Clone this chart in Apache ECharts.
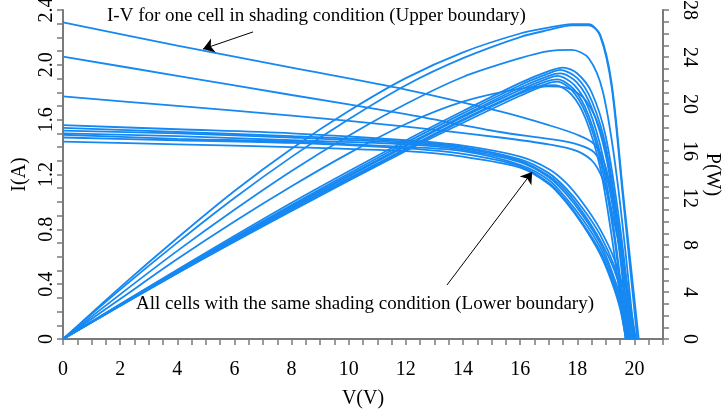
<!DOCTYPE html>
<html>
<head>
<meta charset="utf-8">
<script src="https://cdn.jsdelivr.net/npm/echarts@6/dist/echarts.min.js"></script>
<style>
html,body{margin:0;padding:0;background:#fff;}
#chart{width:723px;height:414px;}
</style>
</head>
<body>
<div id="chart"></div>
<script>
// ---- Tick labels / axis info ----
const xTicks = [0, 2, 4, 6, 8, 10, 12, 14, 16, 18, 20];
const iTicks = [0, 0.4, 0.8, 1.2, 1.6, 2.0, 2.4];
const pTicks = [0, 4, 8, 12, 16, 20, 24, 28];

// ---- I-V curves (V, I) ----
const ivA = [[0,2.31],[4,2.14],[8,1.98],[12,1.82],[15.3,1.66],[17,1.56],[18,1.49],[18.6,1.42],[19,1.25],[19.4,0.85],[19.7,0.45],[20.05,0]];
const ivB = [[0,2.06],[4,1.92],[8,1.78],[12,1.64],[15.3,1.51],[17,1.46],[18,1.42],[18.6,1.36],[19,1.20],[19.4,0.83],[19.7,0.44],[20.0,0]];
const ivC = [[0,1.77],[4,1.70],[8,1.63],[12,1.55],[15.3,1.47],[17,1.42],[18,1.37],[18.6,1.28],[19,1.10],[19.4,0.75],[19.7,0.40],[20,0]];
const ivL1 = [[0,1.56],[4,1.53],[8,1.50],[12,1.45],[14,1.41],[16,1.33],[17,1.24],[17.6,1.14],[18.2,0.99],[18.8,0.80],[19.3,0.58],[19.7,0.30],[20.0,0]];
const ivL2 = [[0,1.54],[4,1.51],[8,1.48],[12,1.44],[14,1.40],[16,1.31],[17,1.21],[17.6,1.10],[18.2,0.95],[18.8,0.76],[19.3,0.53],[19.7,0.25],[19.9,0]];
const ivL3 = [[0,1.52],[4,1.50],[8,1.47],[12,1.43],[14,1.39],[16,1.30],[17,1.19],[17.6,1.08],[18.2,0.92],[18.8,0.72],[19.3,0.50],[19.6,0.28],[19.85,0]];
const ivL4 = [[0,1.50],[4,1.48],[8,1.45],[12,1.42],[14,1.38],[16,1.29],[17,1.18],[17.6,1.06],[18.2,0.90],[18.8,0.70],[19.2,0.50],[19.6,0.24],[19.8,0]];
const ivL5 = [[0,1.49],[4,1.46],[8,1.44],[12,1.40],[14,1.37],[16,1.27],[17,1.16],[17.6,1.03],[18.2,0.87],[18.8,0.67],[19.2,0.47],[19.6,0.20],[19.75,0]];
const ivL6 = [[0,1.47],[4,1.45],[8,1.43],[12,1.39],[14,1.35],[16,1.26],[17,1.14],[17.6,1.01],[18.2,0.84],[18.8,0.64],[19.2,0.44],[19.5,0.24],[19.7,0]];
const ivL7 = [[0,1.44],[4,1.42],[8,1.40],[12,1.37],[14,1.33],[16,1.25],[17,1.13],[17.6,1.00],[18.2,0.83],[18.8,0.62],[19.2,0.42],[19.5,0.22],[19.7,0]];

// ---- P-V curves (V, P) ----
const pA = [[0,0],[2,4.4],[4,8.6],[6,12.6],[8,16.2],[10,19.4],[12,22.2],[14,24.4],[16,26.0],[17,26.5],[17.8,26.8],[18.4,26.8],[18.8,25.8],[19.2,21.5],[19.6,12.0],[20.1,0]];
const pB = [[0,0],[2,4.2],[4,8.2],[6,12.0],[8,15.5],[10,18.7],[12,21.6],[14,23.9],[16,25.7],[17,26.3],[17.8,26.7],[18.4,26.7],[18.8,25.9],[19.2,21.8],[19.6,12.5],[20.15,0]];
const pC = [[0,0],[2,3.8],[4,7.5],[6,11.0],[8,14.3],[10,17.3],[12,20.0],[14,22.3],[16,23.9],[17,24.5],[17.8,24.6],[18.4,23.9],[18.9,21.0],[19.4,13.5],[20,0]];
const pD = [[0,0],[2,3.4],[4,6.8],[6,10.0],[8,13.0],[10,15.8],[12,18.3],[14,20.2],[16,21.3],[17,21.5],[17.6,21.4],[18.3,20.3],[18.9,17.0],[19.4,10.0],[19.8,0]];
const pG1 = [[0,0],[4,5.9],[8,11.6],[12,16.9],[14,19.4],[16,21.8],[17,22.8],[17.5,23.1],[18,22.6],[18.5,21.0],[19,17.2],[19.5,9.5],[19.95,0]];
const pG2 = [[0,0],[4,5.8],[8,11.4],[12,16.7],[14,19.2],[16,21.6],[17,22.6],[17.4,22.9],[18,22.2],[18.5,20.3],[19,16.4],[19.5,8.6],[19.9,0]];
const pG3 = [[0,0],[4,5.8],[8,11.3],[12,16.5],[14,19.0],[16,21.4],[17,22.4],[17.4,22.6],[18,21.8],[18.5,19.7],[19,15.6],[19.4,9.5],[19.85,0]];
const pG4 = [[0,0],[4,5.7],[8,11.2],[12,16.4],[14,18.9],[16,21.2],[17,22.2],[17.3,22.4],[17.9,21.6],[18.4,19.6],[18.9,15.5],[19.4,8.8],[19.8,0]];
const pG5 = [[0,0],[4,5.7],[8,11.1],[12,16.2],[14,18.7],[16,21.0],[16.9,21.9],[17.3,22.1],[17.9,21.2],[18.4,19.0],[18.9,14.8],[19.3,9.0],[19.75,0]];
const pG6 = [[0,0],[4,5.6],[8,11.0],[12,16.1],[14,18.6],[16,20.9],[16.9,21.7],[17.3,21.9],[17.8,21.2],[18.3,19.2],[18.8,15.3],[19.3,8.5],[19.7,0]];
const pG7 = [[0,0],[4,5.6],[8,10.9],[12,16.0],[14,18.4],[16,20.7],[16.8,21.5],[17.2,21.6],[17.8,20.8],[18.3,18.7],[18.8,14.6],[19.2,8.8],[19.7,0]];

// ---- annotation arrows (data coords on I axis) ----
const arrowUpper = [[6.65, 2.24], [4.9, 2.115]];
const arrowLower = [[13.44, 0.394], [16.42, 1.218]];
const textUpper = 'I-V for one cell in shading condition (Upper boundary)';
const textLower = 'All cells with the same shading condition (Lower boundary)';

const ivCurves = [ivA, ivB, ivC, ivL1, ivL2, ivL3, ivL4, ivL5, ivL6, ivL7];
const pvCurves = [pA, pB, pC, pD, pG1, pG2, pG3, pG4, pG5, pG6, pG7];

const LINE = '#1688f2';
const AXIS = '#7a7a7a';
const FONT = '"Liberation Serif", "Times New Roman", serif';

const series = [];
ivCurves.forEach((d, i) => {
  const s = {
    type: 'line', yAxisIndex: 0, data: d, showSymbol: false, smooth: 0.3,
    lineStyle: { color: LINE, width: 1.8 }, silent: true
  };
  if (i === 0) {
    s.markLine = {
      silent: true, animation: false,
      symbol: ['none', 'arrow'], symbolSize: 11,
      label: { show: false },
      lineStyle: { color: '#000', width: 1, type: 'solid' },
      data: [
        [{ coord: arrowUpper[0] }, { coord: arrowUpper[1] }],
        [{ coord: arrowLower[0] }, { coord: arrowLower[1] }]
      ]
    };
  }
  series.push(s);
});
pvCurves.forEach(d => {
  series.push({
    type: 'line', yAxisIndex: 1, data: d, showSymbol: false, smooth: 0.3,
    lineStyle: { color: LINE, width: 1.8 }, silent: true
  });
});

const nameStyle = { fontFamily: FONT, fontSize: 20, color: '#000', align: 'center', verticalAlign: 'middle' };

const axisCommon = {
  type: 'value', min: 0,
  nameMoveOverlap: false,
  axisLine: { show: true, lineStyle: { color: AXIS, width: 2 } },
  axisTick: { show: true, inside: false, length: 6, lineStyle: { color: AXIS, width: 1.5 } },
  minorTick: { show: true, splitNumber: 4, length: 6, lineStyle: { color: AXIS, width: 1.5 } },
  splitLine: { show: false },
  nameTextStyle: nameStyle
};

const chart = echarts.init(document.getElementById('chart'));
chart.setOption({
  animation: false,
  backgroundColor: '#fff',
  grid: { left: 63, right: 60, top: 10, bottom: 75, containLabel: false, outerBoundsMode: 'none' },
  xAxis: Object.assign({}, axisCommon, {
    max: 21, interval: 2,
    name: 'V(V)', nameLocation: 'middle', nameGap: 60,
    axisLabel: {
      margin: 21, fontFamily: FONT, fontSize: 20, color: '#000',
      formatter: v => (xTicks.indexOf(v) >= 0 ? String(v) : '')
    }
  }),
  yAxis: [
    Object.assign({}, axisCommon, {
      max: 2.4, interval: 0.4, position: 'left',
      name: 'I(A)', nameLocation: 'middle', nameGap: 43, nameRotate: 90,
      axisLabel: {
        rotate: 90, margin: 6, fontFamily: FONT, fontSize: 20, color: '#000',
        formatter: v => { const t = iTicks.find(x => Math.abs(x - v) < 1e-6); return t === undefined ? '' : (t === 0 ? '0' : t.toFixed(1)); }
      }
    }),
    Object.assign({}, axisCommon, {
      max: 28, interval: 4, position: 'right',
      name: 'P(W)', nameLocation: 'middle', nameGap: 49, nameRotate: -90,
      axisLabel: {
        rotate: -90, margin: 16, fontFamily: FONT, fontSize: 20, color: '#000',
        formatter: v => (pTicks.indexOf(v) >= 0 ? String(v) : '')
      }
    })
  ],
  graphic: [
    { type: 'text', left: 107, top: 7, silent: true,
      style: { text: textUpper, fontFamily: FONT, fontSize: 19, fill: '#000' } },
    { type: 'text', left: 136, top: 295, silent: true,
      style: { text: textLower, fontFamily: FONT, fontSize: 19, fill: '#000' } }
  ],
  series: series
});
</script>
</body>
</html>
